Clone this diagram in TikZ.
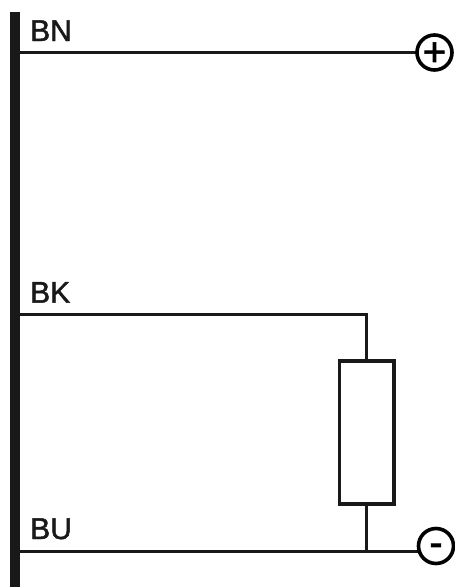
\documentclass[tikz,border=0pt]{standalone}
\usepackage{fontspec}
\setmainfont{Liberation Sans}
\newfontfamily\wirefont[FakeBold=1.6]{Liberation Sans}
\newcommand{\termglyph}[2]{\raisebox{#1}[0pt][0pt]{#2}}
\tikzset{
  wire/.style={draw=black!90, line width=3.5pt},
  wirelabel/.style={anchor=base west, inner sep=0pt, text=black!90, font=\wirefont\fontsize{30}{32}\selectfont},
  terminal/.style={draw=black, fill=white, line width=3.6pt, circle, minimum size=35pt, inner sep=0pt, font=\wirefont\fontsize{40}{40}\selectfont}
}
\begin{document}
\begin{tikzpicture}[x=1pt,y=-1pt]
\useasboundingbox (0,0) rectangle (455,587);
\draw (9.5,11.5) node[fill=black!90, minimum width=10.5pt, minimum height=575.5pt, inner sep=0pt, anchor=north west](Bar){};
\draw (30,41) node[wirelabel](BN){BN}
(30,302.7) node[wirelabel](BK){BK}
(30,539) node[wirelabel](BU){BU};
\coordinate (A) at (19,52.7);
\coordinate (C) at (19,314.5);
\coordinate (D) at (366.7,314.5);
\coordinate (E) at (19,551.7);
\coordinate (F) at (366.7,551.7);
\coordinate (G) at (420,551.7);
\draw [wire] (A)--(420,52.7);
\draw [wire] (C)--(D)--(366.7,362);
\draw [wire] (366.7,506)--(F);
\draw [wire] (E)--(G);
\draw (434.5,52.5) node[terminal](P){\termglyph{-13pt}{+}}
(436,546) node[terminal](M){\termglyph{-10pt}{-}}
(366.7,432.7) node[draw=black!90, line width=3.8pt, fill=white, minimum width=54.5pt, minimum height=143pt, inner sep=0pt](R){};
\end{tikzpicture}
\end{document}
